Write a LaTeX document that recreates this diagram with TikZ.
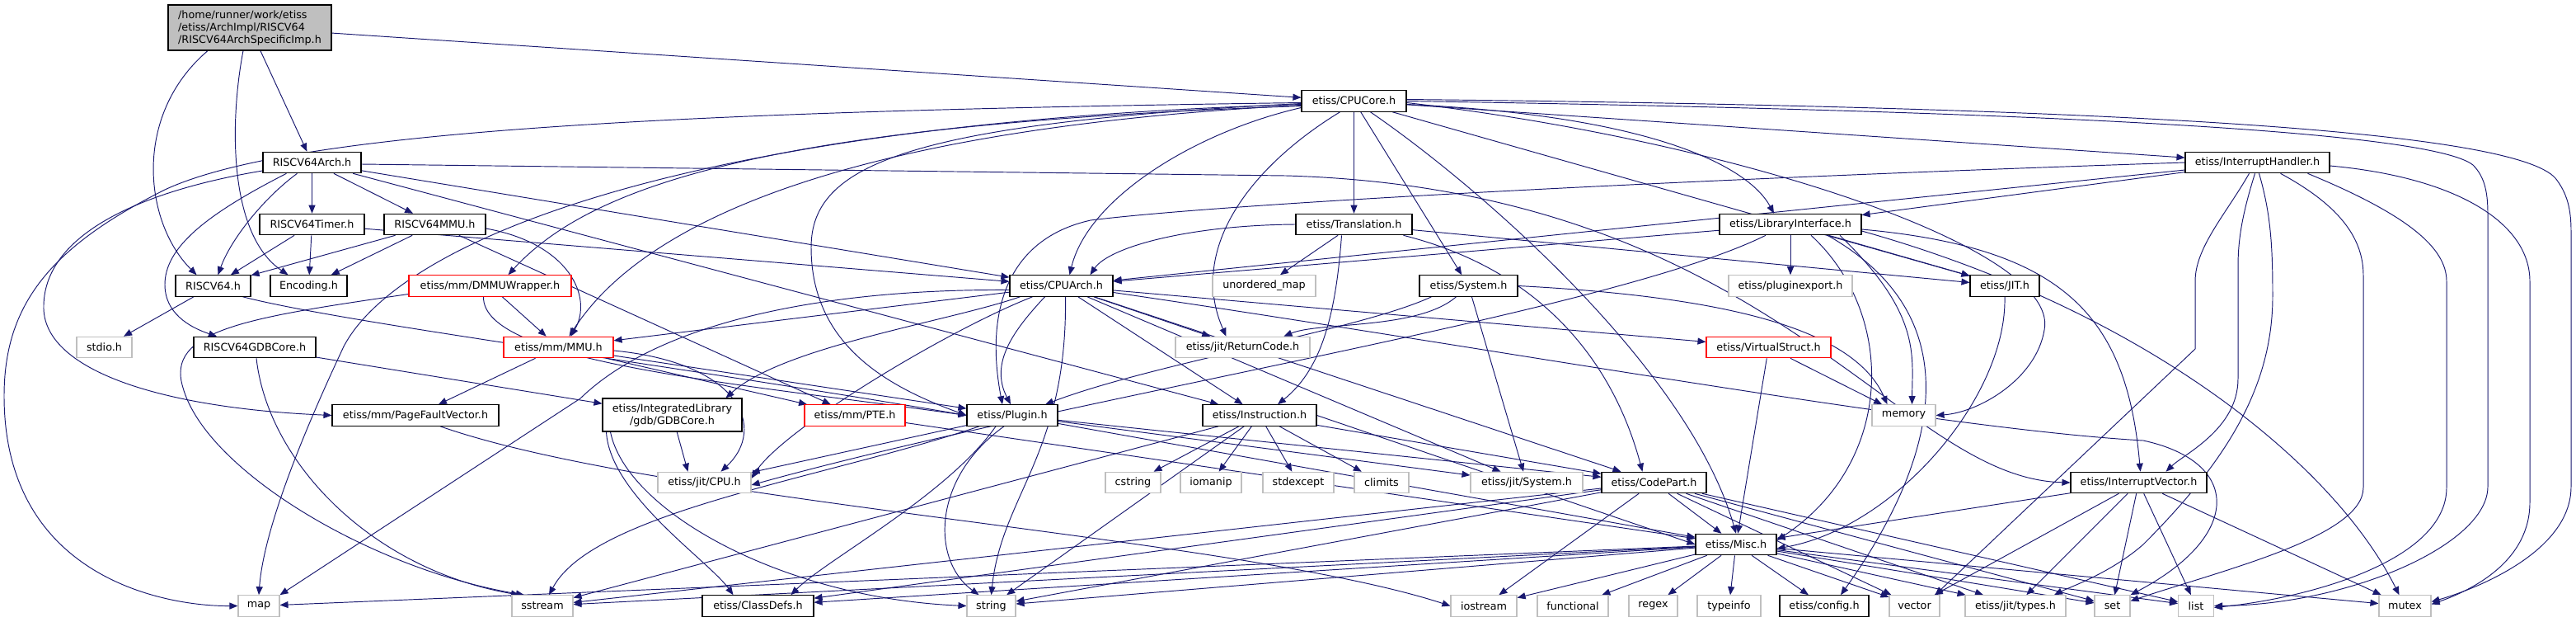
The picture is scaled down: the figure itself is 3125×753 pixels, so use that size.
\documentclass[tikz,border=0pt]{standalone}
\usepackage{fontspec}
\newfontfamily\dv{DejaVu Sans}
\usetikzlibrary{arrows.meta}
\definecolor{eblue}{HTML}{191970}
\definecolor{gb}{HTML}{BFBFBF}
\pgfdeclarelayer{bg}
\pgfsetlayers{bg,main}
\begin{document}
\begin{tikzpicture}[x=1pt,y=-1pt,
  nb/.style={draw=black,line width=1.1pt,fill=white,minimum height=25.5pt,inner sep=0pt,font=\dv\fontsize{12.75pt}{15pt}\selectfont},
  ng/.style={nb,draw=gb},
  nr/.style={nb,draw=red},
  e/.style={draw=eblue,line width=0.95pt,-{Triangle[length=10pt,width=8pt]}}]
\useasboundingbox (0,0) rectangle (3125,753);
% ---------- nodes ----------
\node[nb,fill=gb,minimum width=198pt,minimum height=55pt,align=left] (root) at (303,33.5) {/home/runner/work/etiss\\/etiss/ArchImpl/RISCV64\\/RISCV64ArchSpecificImp.h};
\node[nb,minimum width=127pt] (cpucore) at (1642.5,122.5) {etiss/CPUCore.h};
\node[nb,minimum width=119pt] (rvarch) at (378.5,197) {RISCV64Arch.h};
\node[nb,minimum width=175pt] (ih) at (2738.5,197) {etiss/InterruptHandler.h};
\node[nb,minimum width=127pt] (timer) at (378.5,272) {RISCV64Timer.h};
\node[nb,minimum width=123pt] (rvmmu) at (527.5,272) {RISCV64MMU.h};
\node[nb,minimum width=141pt] (transl) at (1642.5,272) {etiss/Translation.h};
\node[nb,minimum width=172pt] (libif) at (2172,272) {etiss/LibraryInterface.h};
\node[nb,minimum width=91pt] (rv64h) at (258.5,346.5) {RISCV64.h};
\node[nb,minimum width=93pt] (encoding) at (374.5,346.5) {Encoding.h};
\node[nr,minimum width=197pt] (dmmu) at (594.5,346.5) {etiss/mm/DMMUWrapper.h};
\node[nb,minimum width=125pt] (cpuarch) at (1287.5,346.5) {etiss/CPUArch.h};
\node[ng,minimum width=125pt] (umap) at (1533.5,346.5) {unordered\_map};
\node[nb,minimum width=119pt] (system) at (1781.5,346.5) {etiss/System.h};
\node[ng,minimum width=150pt] (plugexp) at (2172,346.5) {etiss/pluginexport.h};
\node[nb,minimum width=84pt] (jit) at (2432,346.5) {etiss/JIT.h};
\node[ng,minimum width=67pt] (stdio) at (126.5,421) {stdio.h};
\node[nb,minimum width=148pt] (rvgdb) at (309,421) {RISCV64GDBCore.h};
\node[nr,minimum width=133pt] (mmu) at (677.5,421) {etiss/mm/MMU.h};
\node[ng,minimum width=163pt] (retcode) at (1507.5,421) {etiss/jit/ReturnCode.h};
\node[nr,minimum width=151pt] (vstruct) at (2145.5,421) {etiss/VirtualStruct.h};
\node[nb,minimum width=202pt] (pfv) at (504,503.5) {etiss/mm/PageFaultVector.h};
\node[nb,minimum width=169pt,minimum height=40pt,align=center] (gdbcore) at (815.5,503) {etiss/IntegratedLibrary\\/gdb/GDBCore.h};
\node[nr,minimum width=122pt] (pte) at (1037,503.5) {etiss/mm/PTE.h};
\node[nb,minimum width=110pt] (plugin) at (1228,503.5) {etiss/Plugin.h};
\node[nb,minimum width=138pt] (instr) at (1528,503.5) {etiss/Instruction.h};
\node[ng,minimum width=77pt] (memory) at (2309.5,503.5) {memory};
\node[ng,minimum width=113pt] (cpuh) at (854.5,585) {etiss/jit/CPU.h};
\node[ng,minimum width=67pt] (cstring) at (1374.5,585) {cstring};
\node[ng,minimum width=74pt] (iomanip) at (1469,585) {iomanip};
\node[ng,minimum width=86pt] (stdexcept) at (1575,585) {stdexcept};
\node[ng,minimum width=66pt] (climits) at (1676,585) {climits};
\node[ng,minimum width=136pt] (jitsys) at (1852,585) {etiss/jit/System.h};
\node[nb,minimum width=127pt] (codepart) at (2006.5,585) {etiss/CodePart.h};
\node[nb,minimum width=165pt] (intvec) at (2594.5,585) {etiss/InterruptVector.h};
\node[nb,minimum width=98pt] (misc) at (2106,660) {etiss/Misc.h};
\node[ng,minimum width=50pt] (map) at (314,734.5) {map};
\node[ng,minimum width=74pt] (sstream) at (658,734.5) {sstream};
\node[nb,minimum width=135pt] (classdefs) at (919.5,734.5) {etiss/ClassDefs.h};
\node[ng,minimum width=59pt] (string) at (1202.5,734.5) {string};
\node[ng,minimum width=80pt] (iostream) at (1800,734.5) {iostream};
\node[ng,minimum width=86pt] (functional) at (1908,734.5) {functional};
\node[ng,minimum width=59pt] (regex) at (2005.5,734.5) {regex};
\node[ng,minimum width=77pt] (typeinfo) at (2097.5,734.5) {typeinfo};
\node[nb,minimum width=108pt] (config) at (2213,734.5) {etiss/config.h};
\node[ng,minimum width=61pt] (vector) at (2322.5,734.5) {vector};
\node[ng,minimum width=122pt] (types) at (2445,734.5) {etiss/jit/types.h};
\node[ng,minimum width=43pt] (set) at (2562.5,734.5) {set};
\node[ng,minimum width=43pt] (list) at (2664,734.5) {list};
\node[ng,minimum width=63pt] (mutex) at (2917.5,734.5) {mutex};
% ---------- edges ----------
\begin{pgfonlayer}{bg}
\fill[white] (0,0) rectangle (3125,753);
% root
\draw[e] (root) -- (cpucore);
\draw[e] (root) -- (rvarch);
\draw[e] ([xshift=-51pt]root.south) .. controls (160,140) and (175,270) .. ([xshift=-20pt]rv64h.north);
\draw[e] ([xshift=-8pt]root.south) .. controls (278,150) and (278,285) .. ([xshift=-25pt]encoding.north);
% RISCV64Arch
\draw[e] (rvarch) -- (timer);
\draw[e] (rvarch) -- (rvmmu);
\draw[e] ([xshift=-18pt]rvarch.south) .. controls (320,240) and (280,290) .. ([xshift=6pt]rv64h.north);
\draw[e] ([xshift=-31pt]rvarch.south) .. controls (250,260) and (200,300) .. (200,345) .. controls (200,385) and (240,400) .. ([xshift=-46pt]rvgdb.north);
\draw[e] ([yshift=-10pt]rvarch.west) .. controls (180,230) and (55,280) .. (53,370) .. controls (50,450) and (200,495) .. (pfv.west);
\draw[e] (rvarch) -- (cpuarch);
\draw[e] ([yshift=-2pt]rvarch.east) -- (1560,213) .. controls (2150,230) and (2300,580) .. (intvec.west);
\draw[e] (rvarch) -- (instr);
% Timer / MMU
\draw[e] (timer) -- (rv64h);
\draw[e] (timer) -- (encoding);
\draw[e] (timer) -- (cpuarch);
\draw[e] (rvmmu) -- (rv64h);
\draw[e] (rvmmu) -- (encoding);
\draw[e] ([yshift=-5pt]rvmmu.east) .. controls (690,295) and (720,360) .. ([xshift=15pt]mmu.north);
\draw[e] (rvmmu) -- (pte);
% RISCV64.h, GDB, DMMU
\draw[e] (rv64h) -- (stdio);
\draw[e] ([xshift=36pt]rv64h.south) .. controls (420,392) and (800,440) .. (plugin.west);
\draw[e] (rvgdb) -- (gdbcore);
\draw[e] ([xshift=2pt]rvgdb.south) .. controls (325,560) and (450,690) .. ([xshift=-28pt]sstream.north);
\draw[e] (dmmu) -- (mmu);
\draw[e] ([yshift=-10pt]dmmu.west) .. controls (300,385) and (200,400) .. (222,470) .. controls (250,570) and (450,690) .. ([xshift=-22pt]sstream.north);
\draw[e] ([xshift=-8pt]dmmu.south) .. controls (585,440) and (900,465) .. (plugin.west);
% CPUCore
\draw[e] (cpucore) -- (ih);
\draw[e] (cpucore) -- (transl);
\draw[e] ([yshift=-4pt]cpucore.east) .. controls (2000,140) and (2120,200) .. ([xshift=-20pt]libif.north);
\draw[e] ([yshift=-8pt]cpucore.west) .. controls (1450,160) and (1320,240) .. ([xshift=10pt]cpuarch.north);
\draw[e] ([yshift=-6pt]cpucore.west) .. controls (950,150) and (720,220) .. ([xshift=22pt]dmmu.north);
\draw[e] ([yshift=-5pt]cpucore.west) .. controls (950,160) and (760,300) .. ([xshift=13pt]mmu.north);
\draw[e] ([yshift=-4pt]cpucore.west) .. controls (800,150) and (480,300) .. (417,420) .. controls (370,520) and (320,640) .. (map.north);
\draw[e] ([yshift=-2pt]cpucore.west) .. controls (800,135) and (350,160) .. (200,230) .. controls (60,300) and (5,370) .. (5,480) .. controls (5,700) and (200,735) .. (map.west);
\draw[e] (cpucore) -- (system);
\draw[e] (cpucore) -- (jit);
\draw[e] ([xshift=-17pt]cpucore.south) .. controls (1520,200) and (1440,300) .. ([xshift=-20pt]retcode.north);
\draw[e] ([yshift=-3pt]cpucore.west) .. controls (1100,150) and (984,200) .. (984,300) .. controls (984,420) and (1080,470) .. (plugin.west);
\draw[e] ([xshift=20pt]cpucore.south) .. controls (1800,230) and (2050,450) .. (misc.north);
\draw[e] ([yshift=-2pt]cpucore.east) .. controls (2100,170) and (2500,300) .. (2480,400) .. controls (2470,460) and (2400,500) .. (memory.east);
\draw[e] (cpucore.east) .. controls (2500,135) and (2950,160) .. (3000,200) .. controls (3015,215) and (3018,235) .. (3018,260) -- (3018,590) .. controls (3018,660) and (2850,733) .. (list.east);
\draw[e] ([yshift=2pt]cpucore.east) .. controls (2600,130) and (3050,160) .. (3100,216) .. controls (3115,235) and (3119,255) .. (3119,280) -- (3119,590) .. controls (3119,670) and (3000,715) .. ([yshift=5pt]mutex.east);
% InterruptHandler
\draw[e] (ih) -- (libif);
\draw[e] (ih) -- (cpuarch);
\draw[e] (ih.west) .. controls (2100,215) and (1500,245) .. (1323,267) .. controls (1220,290) and (1195,380) .. ([xshift=-12pt]plugin.north);
\draw[e] ([xshift=-10pt]ih.south) .. controls (2700,260) and (2663,300) .. (2663,341) -- (2663,423) -- ([xshift=25pt]vector.north);
\draw[e] ([xshift=-3pt]ih.south) .. controls (2720,260) and (2715,290) .. (2715,323) -- (2715,459) .. controls (2715,520) and (2650,550) .. ([xshift=33pt]intvec.north);
\draw[e] ([xshift=2pt]ih.south) .. controls (2755,260) and (2757,300) .. (2757,359) .. controls (2757,470) and (2700,560) .. (2600,660) .. controls (2560,695) and (2510,712) .. ([xshift=47pt]types.north);
\draw[e] ([xshift=28pt]ih.south) .. controls (2840,250) and (2867,290) .. (2867,334) -- (2867,591) .. controls (2867,650) and (2700,690) .. ([yshift=6pt]set.east);
\draw[e] ([xshift=61pt]ih.south) .. controls (2920,260) and (2968,300) .. (2968,341) -- (2968,591) .. controls (2968,680) and (2800,725) .. ([yshift=-2pt]list.east);
\draw[e] ([yshift=-4pt]ih.east) .. controls (2980,215) and (3069,270) .. (3069,341) -- (3069,609) .. controls (3069,680) and (3000,715) .. ([yshift=2pt]mutex.east);
% Translation
\draw[e] (transl.west) .. controls (1440,273) and (1345,300) .. ([xshift=35pt]cpuarch.north);
\draw[e] (transl) -- (umap);
\draw[e] ([xshift=-15pt]transl.south) .. controls (1620,390) and (1600,450) .. ([xshift=22pt]instr.north);
\draw[e] ([xshift=60pt]transl.south) .. controls (1880,330) and (1960,450) .. ([xshift=-14pt]codepart.north);
\draw[e] (transl) -- (jit);
% LibraryInterface
\draw[e] (libif) -- (cpuarch);
\draw[e] (libif) -- (plugexp);
\draw[e] (libif) -- (jit);
\draw[e] ([xshift=25pt]libif.south) .. controls (2300,380) and (2300,560) .. ([yshift=5pt]misc.east);
\draw[e] ([xshift=45pt]libif.south) .. controls (2420,400) and (2320,600) .. ([xshift=20pt]config.north);
\draw[e] ([xshift=60pt]libif.south) .. controls (2330,380) and (2320,430) .. ([xshift=10pt]memory.north);
\draw[e] ([yshift=-6pt]libif.east) .. controls (2500,300) and (2580,380) .. ([xshift=2pt]intvec.north);
\draw[e] ([yshift=-8pt]libif.east) .. controls (2600,376) and (2830,560) .. ([xshift=-7pt]mutex.north);
\draw[e] ([xshift=-30pt]libif.south) .. controls (1950,380) and (1300,480) .. ([yshift=-3pt]cpuh.east);
% System
\draw[e] ([xshift=-45pt]system.south) .. controls (1650,400) and (1400,440) .. ([xshift=40pt]plugin.north);
\draw[e] ([xshift=-15pt]system.south) .. controls (1720,400) and (1600,390) .. ([xshift=50pt]retcode.north);
\draw[e] (system) -- (jitsys);
\draw[e] (system.east) .. controls (2100,360) and (2250,400) .. ([xshift=-20pt]memory.north);
% CPUArch
\draw[e] (cpuarch) -- (mmu);
\draw[e] ([xshift=-50pt]cpuarch.south) .. controls (1150,390) and (950,420) .. ([xshift=65pt]gdbcore.north);
\draw[e] ([xshift=-35pt]cpuarch.south) .. controls (1150,400) and (950,520) .. ([yshift=5pt]cpuh.east);
\draw[e] ([xshift=-20pt]cpuarch.south) .. controls (1230,400) and (1200,440) .. ([xshift=-2pt]plugin.north);
\draw[e] ([xshift=5pt]cpuarch.south) .. controls (1295,550) and (1215,600) .. (string.north);
\draw[e] (cpuarch) -- (instr);
\draw[e] (cpuarch) -- (retcode);
\draw[e] (cpuarch) -- (vstruct);
\draw[e] (cpuarch) -- (jitsys);
\draw[e] (cpuarch) -- (codepart);
\draw[e] ([yshift=-5pt]cpuarch.west) .. controls (1000,350) and (800,390) .. (704,483) -- (map.north east);
\draw[e] ([yshift=-8pt]cpuarch.east) .. controls (1800,420) and (2350,520) .. (2600,534) .. controls (2720,560) and (2720,650) .. (set.north east);
% MMU, PFV, PTE, GDB
\draw[e] (mmu) -- (pfv);
\draw[e] (mmu) -- (pte);
\draw[e] (mmu) -- (plugin);
\draw[e] ([yshift=-4pt]mmu.east) .. controls (900,440) and (930,520) .. ([xshift=20pt]cpuh.north);
\draw[e] ([xshift=30pt]pfv.south) .. controls (800,610) and (1500,650) .. (iostream.west);
\draw[e] (pte) -- (misc);
\draw[e] (gdbcore) -- ([xshift=-20pt]cpuh.north);
\draw[e] ([xshift=-75pt]gdbcore.south) .. controls (760,620) and (950,725) .. (string.west);
\draw[e] ([xshift=-80pt]gdbcore.south) .. controls (740,600) and (860,680) .. ([xshift=-30pt]classdefs.north);
% Plugin
\draw[e] (plugin) -- (cpuh);
\draw[e] (plugin) -- (jitsys);
\draw[e] (plugin) -- (codepart);
\draw[e] (plugin) -- (misc);
\draw[e] ([xshift=-40pt]plugin.south) .. controls (1000,580) and (720,620) .. ([xshift=8pt]sstream.north);
\draw[e] ([xshift=-20pt]plugin.south) .. controls (1150,600) and (1000,680) .. ([xshift=40pt]classdefs.north);
\draw[e] ([xshift=-10pt]plugin.south) .. controls (1130,580) and (1130,680) .. ([xshift=-15pt]string.north);
% Instruction
\draw[e] (instr) -- (cstring);
\draw[e] (instr) -- (iomanip);
\draw[e] (instr) -- (stdexcept);
\draw[e] (instr) -- (climits);
\draw[e] (instr) -- (codepart);
\draw[e] (instr.east) -- (misc.west);
\draw[e] (instr) -- (sstream);
\draw[e] (instr) -- (string);
% VirtualStruct, JIT
\draw[e] (vstruct) -- (memory);
\draw[e] (vstruct) -- (misc);
\draw[e] (jit.south) .. controls (2435,480) and (2300,640) .. ([yshift=-5pt]misc.east);
% CodePart
\draw[e] (codepart) -- (misc);
\draw[e] (codepart) -- (iostream);
\draw[e] (codepart) -- (sstream);
\draw[e] (codepart) -- (string);
\draw[e] (codepart) -- (classdefs);
\draw[e] (codepart) -- (vector);
\draw[e] (codepart) -- (types);
\draw[e] (codepart) -- (set);
\draw[e] (codepart) -- (list);
% InterruptVector
\draw[e] (intvec) -- (misc);
\draw[e] (intvec) -- (vector);
\draw[e] (intvec) -- (types);
\draw[e] (intvec) -- (set);
\draw[e] (intvec) -- (list);
\draw[e] (intvec) -- (mutex);
% Misc
\foreach \t in {map,sstream,classdefs,string,iostream,functional,regex,typeinfo,config,vector,types,set,list,mutex}
  \draw[e] (misc) -- (\t);
\end{pgfonlayer}
\end{tikzpicture}
\end{document}
